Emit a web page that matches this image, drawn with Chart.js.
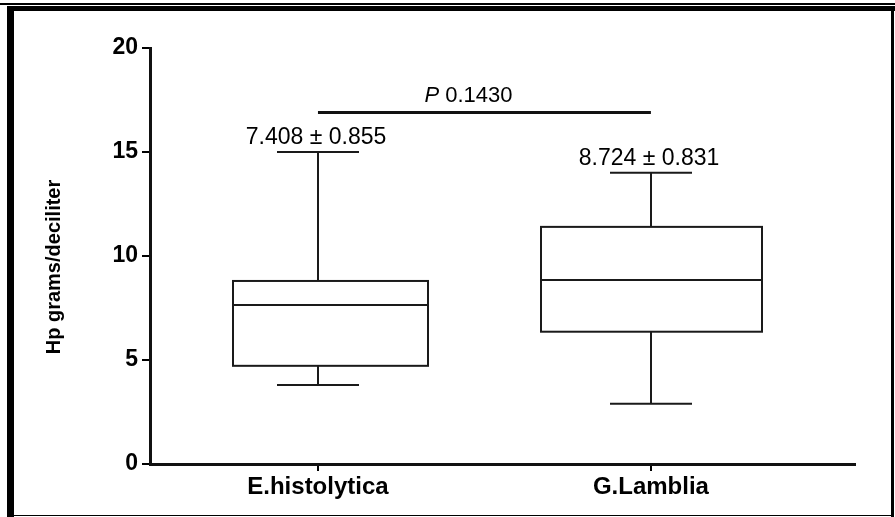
<!DOCTYPE html>
<html><head><meta charset="utf-8">
<script src="https://cdn.jsdelivr.net/npm/chart.js@4.4.0/dist/chart.umd.min.js"></script>
<style>
html,body{margin:0;padding:0;background:#fff;}
#wrap{position:relative;width:895px;height:517px;overflow:hidden;background:#fff;}
canvas{position:absolute;left:0;top:0;}
.f{position:absolute;background:#000;}
</style></head><body>
<div id="wrap">
<canvas id="c" width="895" height="517" style="width:895px;height:517px"></canvas>
<div class="f" style="left:0;top:3px;width:895px;height:2px"></div>
<div class="f" style="left:7px;top:6px;width:888px;height:5px"></div>
<div class="f" style="left:7px;top:6px;width:7px;height:511px"></div>
<div class="f" style="left:891px;top:6px;width:3px;height:511px"></div>
<div class="f" style="left:7px;top:515px;width:887px;height:1px"></div>
</div>
<script>
// ---- data ----
const categories = ['E.histolytica', 'G.Lamblia'];
const catPos = [1, 2];
const whiskerMin = [3.8, 2.9];
const q1 = [4.72, 6.36];
const median = [7.65, 8.85];
const q3 = [8.8, 11.4];
const whiskerMax = [15, 14];
const meanSem = ['7.408 ± 0.855', '8.724 ± 0.831'];
const pValue = '0.1430';
const pLineLevel = 16.9;
const yTicks = [0, 5, 10, 15, 20];
const yTitle = 'Hp grams/deciliter';

const FONT = "'Liberation Sans', Arial, sans-serif";

const boxPlugin = {
  id: 'boxExtras',
  afterDatasetsDraw(chart) {
    const { ctx, scales: { x, y } } = chart;
    ctx.save();
    ctx.strokeStyle = '#1a1a1a';
    ctx.fillStyle = '#000';
    ctx.lineWidth = 2;
    const seg = (x1, y1, x2, y2) => { ctx.beginPath(); ctx.moveTo(x1, y1); ctx.lineTo(x2, y2); ctx.stroke(); };
    const capHalf = 41;
    const leftHalf = [85, 110], rightHalf = [110, 111];
    catPos.forEach((c, i) => {
      const px = Math.round(x.getPixelForValue(c));
      const yq1 = y.getPixelForValue(q1[i]), yq3 = y.getPixelForValue(q3[i]);
      const yMed = y.getPixelForValue(median[i]);
      const yMax = y.getPixelForValue(whiskerMax[i]), yMin = y.getPixelForValue(whiskerMin[i]);
      const l = px - leftHalf[i], r = px + rightHalf[i];
      // box
      ctx.strokeRect(l, yq3, r - l, yq1 - yq3);
      // median
      seg(l, yMed, r, yMed);
      // whiskers + caps
      seg(px, yq3, px, yMax);
      seg(px, yq1, px, yMin);
      seg(px - capHalf, yMax, px + capHalf, yMax);
      seg(px - capHalf, yMin, px + capHalf, yMin);
      // mean ± sem label
      ctx.font = '23px ' + FONT;
      ctx.textAlign = 'center';
      ctx.textBaseline = 'alphabetic';
      ctx.fillText(meanSem[i], px - 2, yMax - 8);
    });
    // P line + text
    const py = y.getPixelForValue(pLineLevel);
    ctx.lineWidth = 3;
    ctx.strokeStyle = '#111';
    seg(x.getPixelForValue(catPos[0]), py, x.getPixelForValue(catPos[1]), py);
    const fI = 'italic 22px ' + FONT, fN = '22px ' + FONT;
    ctx.font = fI; const wP = ctx.measureText('P ').width;
    ctx.font = fN; const wV = ctx.measureText(pValue).width;
    const cx = (x.getPixelForValue(catPos[0]) + x.getPixelForValue(catPos[1])) / 2 - 16;
    const sx = cx - (wP + wV) / 2;
    ctx.textAlign = 'left';
    ctx.font = fI; ctx.fillText('P', sx, py - 10);
    ctx.font = fN; ctx.fillText(pValue, sx + wP, py - 10);
    // y-axis title
    ctx.save();
    ctx.translate(54, (y.top + y.bottom) / 2 + 11);
    ctx.rotate(-Math.PI / 2);
    ctx.textAlign = 'center';
    ctx.textBaseline = 'middle';
    ctx.font = 'bold 20px ' + FONT;
    ctx.fillText(yTitle, 0, 0);
    ctx.restore();
    ctx.restore();
  }
};

new Chart(document.getElementById('c'), {
  type: 'scatter',
  data: {
    datasets: [{
      data: catPos.map((c, i) => ({ x: c, y: median[i] })),
      pointRadius: 0,
      showLine: false
    }]
  },
  options: {
    responsive: false,
    animation: false,
    devicePixelRatio: 1,
    layout: { padding: { top: 48, right: 40, left: 0, bottom: 0 } },
    plugins: { legend: { display: false }, tooltip: { enabled: false } },
    scales: {
      x: {
        type: 'linear', min: 0.4955, max: 2.613, offset: false,
        afterBuildTicks: s => { s.ticks = catPos.map(v => ({ value: v })); },
        afterFit: s => { s.height = 53; },
        ticks: {
          callback: v => { const k = catPos.indexOf(v); return k >= 0 ? categories[k] : ''; },
          color: '#000', font: { family: FONT, size: 24, weight: 'bold' }, padding: 2,
          autoSkip: false, maxRotation: 0
        },
        grid: { display: true, offset: false, drawOnChartArea: false, drawTicks: true, tickLength: 7, color: '#000', lineWidth: 2 },
        border: { display: true, color: '#111', width: 3 }
      },
      y: {
        min: 0, max: 20,
        afterBuildTicks: s => { s.ticks = yTicks.map(v => ({ value: v })); },
        afterFit: s => { s.width = 150; },
        ticks: { color: '#000', font: { family: FONT, size: 23, weight: 'bold' }, padding: 4 },
        grid: { display: true, drawOnChartArea: false, drawTicks: true, tickLength: 8, color: '#000', lineWidth: 2 },
        border: { display: true, color: '#111', width: 3 }
      }
    }
  },
  plugins: [boxPlugin]
});
</script>
</body></html>
